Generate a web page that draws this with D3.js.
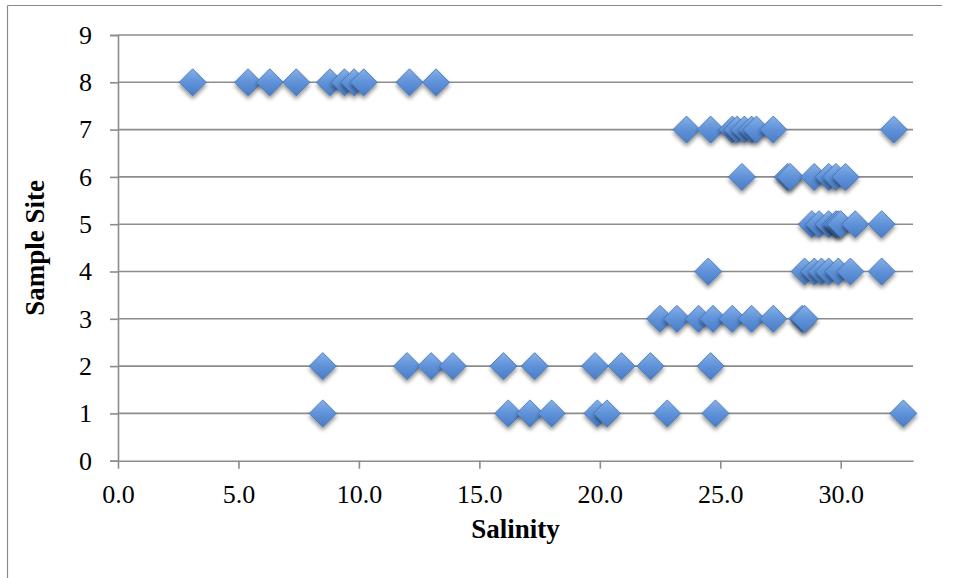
<!DOCTYPE html>
<html><head><meta charset="utf-8">
<script src="https://cdn.jsdelivr.net/npm/d3@7"></script>
<style>html,body{margin:0;padding:0;background:#fff;}svg{display:block;}</style>
</head><body>
<script>
// Salinity readings per sample site
const site1 = [8.5, 16.2, 17.1, 18.0, 19.9, 20.3, 22.8, 24.8, 32.6];
const site2 = [8.5, 12.0, 13.0, 13.9, 16.0, 17.3, 19.8, 20.9, 22.1, 24.6];
const site3 = [22.5, 23.2, 24.1, 24.7, 25.5, 26.3, 27.2, 28.4, 28.5];
const site4 = [24.5, 28.5, 28.9, 29.2, 29.5, 29.9, 30.4, 31.7];
const site5 = [28.8, 29.1, 29.5, 29.8, 29.9, 30.0, 30.6, 31.7];
const site6 = [25.9, 27.8, 27.9, 28.9, 29.5, 29.8, 30.2];
const site7 = [23.6, 24.6, 25.5, 25.7, 26.0, 26.3, 26.5, 27.2, 32.2];
const site8 = [3.1, 5.4, 6.3, 7.4, 8.8, 9.4, 9.8, 10.2, 12.1, 13.2];
const sites = [1, 2, 3, 4, 5, 6, 7, 8];
const siteValues = [site1, site2, site3, site4, site5, site6, site7, site8];
const xTicks = [0, 5, 10, 15, 20, 25, 30];
const yTicks = [0, 1, 2, 3, 4, 5, 6, 7, 8, 9];
const xMax = 33;
const xTitle = "Salinity";
const yTitle = "Sample Site";

const points = [];
sites.forEach((s, i) => siteValues[i].forEach(v => points.push({site: s, sal: v})));

const W = 957, H = 578;
const L = 118, R = 913, T = 35, B = 460.7;
const svg = d3.select("body").append("svg").attr("width", W).attr("height", H);

const defs = svg.append("defs");
const grad = defs.append("linearGradient").attr("id", "dg").attr("x1", 0).attr("y1", 0).attr("x2", 0).attr("y2", 1);
grad.append("stop").attr("offset", "0%").attr("stop-color", "#86b0e8");
grad.append("stop").attr("offset", "50%").attr("stop-color", "#5f92d8");
grad.append("stop").attr("offset", "100%").attr("stop-color", "#4a7cc6");
const f = defs.append("filter").attr("id", "sh").attr("x", "-50%").attr("y", "-50%").attr("width", "200%").attr("height", "200%");
f.append("feGaussianBlur").attr("in", "SourceAlpha").attr("stdDeviation", 2).attr("result", "b");
f.append("feOffset").attr("in", "b").attr("dx", 0).attr("dy", 3).attr("result", "o");
f.append("feComponentTransfer").attr("in", "o").attr("result", "o2")
  .append("feFuncA").attr("type", "linear").attr("slope", 0.45);
const m = f.append("feMerge");
m.append("feMergeNode").attr("in", "o2");
m.append("feMergeNode").attr("in", "SourceGraphic");

// outer frame (partially visible)
svg.append("line").attr("x1", 7.5).attr("x2", 942).attr("y1", 5.5).attr("y2", 5.5).attr("stroke", "#8a8a8a").attr("stroke-width", 1.2);
svg.append("line").attr("x1", 7.5).attr("x2", 7.5).attr("y1", 5.5).attr("y2", H).attr("stroke", "#8a8a8a").attr("stroke-width", 1.2);

const x = d3.scaleLinear().domain([0, xMax]).range([L, R]);
const y = d3.scaleLinear().domain([0, 9]).range([B, T]);

const font = "'Liberation Serif', 'DejaVu Serif', serif";

// gridlines
svg.append("g").selectAll("line").data(yTicks.filter(d => d > 0)).join("line")
  .attr("x1", L).attr("x2", R).attr("y1", d => y(d)).attr("y2", d => y(d))
  .attr("stroke", "#8c8c8c").attr("stroke-width", 1.6);

// y axis
const yAxis = svg.append("g").attr("transform", `translate(${L},0)`)
  .call(d3.axisLeft(y).tickValues(yTicks).tickFormat(d3.format("d")).tickSize(8).tickPadding(18));
yAxis.select(".domain").attr("stroke", "#8c8c8c").attr("stroke-width", 1.6);
yAxis.selectAll(".tick line").attr("stroke", "#8c8c8c").attr("stroke-width", 1.6);
yAxis.selectAll("text").attr("font-family", font).attr("font-size", 26).attr("fill", "#000");

// x axis
const xAxis = svg.append("g").attr("transform", `translate(0,${B})`)
  .call(d3.axisBottom(x).tickValues(xTicks).tickFormat(d3.format(".1f")).tickSize(8).tickSizeOuter(0).tickPadding(16));
xAxis.select(".domain").attr("stroke", "#8c8c8c").attr("stroke-width", 1.6);
xAxis.selectAll(".tick line").attr("stroke", "#8c8c8c").attr("stroke-width", 1.6);
xAxis.selectAll("text").attr("font-family", font).attr("font-size", 26).attr("fill", "#000");

// titles
svg.append("text").attr("x", (L + R) / 2).attr("y", 538).attr("text-anchor", "middle")
  .attr("font-family", font).attr("font-weight", "bold").attr("font-size", 27).text(xTitle);
svg.append("text").attr("transform", `translate(44,${(T + B) / 2}) rotate(-90)`).attr("text-anchor", "middle")
  .attr("font-family", font).attr("font-weight", "bold").attr("font-size", 27).text(yTitle);

// markers
const hd = 13.5;
svg.append("g").selectAll("path").data(points).join("path")
  .attr("d", d => `M${x(d.sal)},${y(d.site) - hd}L${x(d.sal) + hd},${y(d.site)}L${x(d.sal)},${y(d.site) + hd}L${x(d.sal) - hd},${y(d.site)}Z`)
  .attr("fill", "url(#dg)").attr("stroke", "#3f72b8").attr("stroke-width", 0.8)
  .attr("filter", "url(#sh)");
</script>
</body></html>
